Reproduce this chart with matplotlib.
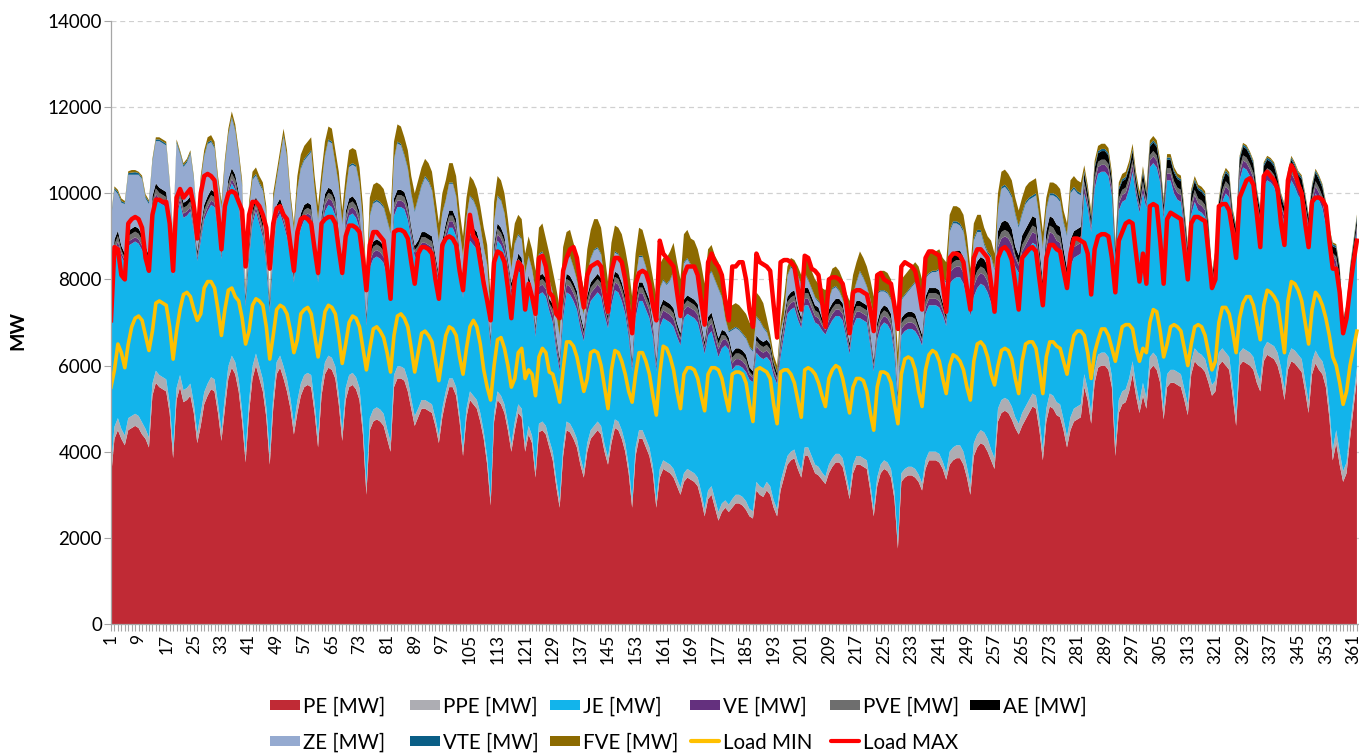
import matplotlib
matplotlib.use('Agg')
import numpy as np
import matplotlib.pyplot as plt
from matplotlib.patches import Rectangle

plt.rcParams['font.family'] = ['Lato', 'DejaVu Sans']

# daily values [MW]; first row = Wed 1 Jan .. Sun 5 Jan, then one row per Mon..Sun week
pe = [
    3400, 4300, 4500, 4300, 4150,
    4500, 4550, 4600, 4550, 4400, 4300, 4100,
    5300, 5600, 5500, 5450, 5400, 4900, 3850,
    5200, 5500, 5150, 5200, 5300, 4900, 4200,
    4600, 5100, 5300, 5450, 5400, 4900, 4250,
    5000, 5700, 5950, 5800, 5400, 4700, 3750,
    4900, 5700, 6000, 5700, 5400, 4800, 3700,
    5000, 5800, 5950, 5700, 5400, 5000, 4400,
    4900, 5300, 5500, 5550, 5500, 4900, 4100,
    5300, 5800, 5950, 5900, 5700, 5100, 4250,
    5200, 5500, 5550, 5450, 5200, 4400, 3000,
    4500, 4700, 4750, 4700, 4600, 4300, 4000,
    5500, 5700, 5700, 5650, 5400, 5000, 4600,
    4800, 5000, 5000, 4950, 4900, 4600, 4200,
    4800, 5200, 5500, 5500, 5300, 4700, 3900,
    4800, 5200, 5100, 5000, 4700, 4300, 3700,
    2750, 4700, 5200, 5100, 4900, 4500, 4000,
    4500, 4900, 4800, 4000, 4400, 4200, 3400,
    4450, 4500, 4400, 4100, 3800, 3200, 2700,
    3900, 4500, 4450, 4300, 4100, 3700, 3400,
    4000, 4300, 4400, 4500, 4400, 4000, 3700,
    4200, 4550, 4500, 4300, 4000, 3500, 2700,
    3900, 4300, 4300, 4100, 3900, 3500, 2700,
    3400, 3600, 3550, 3500, 3400, 3200, 3000,
    3300, 3400, 3350, 3300, 3200, 2900, 2500,
    2900, 3000, 2700, 2400, 2600, 2700, 2600,
    2700, 2800, 2800, 2750, 2650, 2500, 2450,
    3100, 3000, 2950, 3100, 3000, 2700, 2500,
    3100, 3400, 3700, 3800, 3850, 3600, 3400,
    3900, 3900, 3700, 3500, 3450, 3350, 3250,
    3500, 3650, 3750, 3750, 3650, 3300, 2900,
    3500, 3700, 3700, 3650, 3600, 3100, 2500,
    3200, 3500, 3600, 3550, 3400, 2900, 1750,
    3300, 3400, 3450, 3450, 3400, 3300, 3100,
    3600, 3800, 3800, 3800, 3750, 3600, 3350,
    3700, 3800, 3850, 3850, 3700, 3400, 3000,
    3900, 4100, 4200, 4150, 4000, 3800, 3600,
    4700, 4900, 4950, 4900, 4750, 4550, 4400,
    4600, 4750, 4900, 5050, 5000, 4500, 3800,
    4700, 5050, 5000, 4850, 4800, 4500, 4100,
    4500, 4700, 4750, 4800, 5500, 5200, 4650,
    5600, 5950, 6000, 6000, 5900, 5500, 3900,
    4900, 5100, 5150, 5400, 5800, 5300, 4900,
    5300, 5000, 5900, 6000, 5900, 5600, 4750,
    5500, 5600, 5600, 5550, 5500, 5200, 4850,
    5800, 6100, 6000, 5950, 5850, 5600, 5300,
    5400, 6000, 6100, 6000, 5900, 5300, 4600,
    6000, 6100, 6050, 6000, 5900, 5600, 5400,
    6100, 6250, 6200, 6150, 6000, 5700, 5200,
    5900, 6100, 6050, 5950, 5850, 5400, 4900,
    5800, 6050, 5900, 5800, 5500, 4800, 3800,
    4200, 3700, 3300, 3500, 4300, 5000, 5700,
]

ppe = [
    230, 280, 280, 230, 230,
    280, 280, 280, 280, 280, 230, 230,
    280, 280, 280, 280, 280, 230, 230,
    280, 280, 280, 280, 280, 230, 230,
    280, 280, 280, 280, 280, 230, 230,
    280, 280, 280, 280, 280, 230, 230,
    280, 280, 280, 280, 280, 230, 230,
    280, 280, 280, 280, 280, 230, 230,
    280, 280, 280, 280, 280, 230, 230,
    280, 280, 280, 280, 280, 230, 230,
    280, 280, 280, 280, 280, 230, 230,
    280, 280, 280, 280, 280, 230, 230,
    280, 280, 280, 280, 280, 230, 230,
    200, 200, 200, 200, 200, 170, 170,
    200, 200, 200, 200, 200, 170, 170,
    200, 200, 200, 200, 200, 170, 170,
    170, 200, 200, 200, 200, 170, 170,
    200, 200, 200, 170, 200, 170, 170,
    200, 200, 200, 170, 200, 170, 170,
    200, 200, 200, 200, 200, 170, 170,
    200, 200, 200, 200, 200, 170, 170,
    200, 200, 200, 200, 200, 170, 170,
    200, 200, 200, 200, 200, 170, 170,
    200, 200, 200, 200, 200, 170, 170,
    200, 200, 200, 200, 200, 170, 170,
    200, 200, 200, 200, 200, 170, 170,
    200, 200, 200, 200, 200, 170, 170,
    200, 200, 200, 200, 200, 170, 170,
    200, 200, 200, 200, 200, 170, 170,
    200, 200, 200, 200, 200, 170, 170,
    200, 200, 200, 200, 200, 170, 170,
    200, 200, 200, 200, 200, 170, 170,
    200, 200, 200, 200, 200, 170, 170,
    200, 200, 200, 200, 200, 170, 170,
    200, 200, 200, 200, 200, 170, 170,
    300, 300, 300, 300, 300, 250, 250,
    300, 300, 300, 300, 300, 250, 250,
    300, 300, 300, 300, 300, 250, 250,
    300, 300, 300, 300, 300, 250, 250,
    300, 300, 300, 300, 300, 250, 250,
    300, 300, 300, 300, 300, 250, 250,
    300, 300, 300, 300, 300, 250, 250,
    300, 300, 300, 300, 300, 250, 250,
    300, 250, 300, 300, 300, 250, 250,
    300, 300, 300, 300, 300, 250, 250,
    300, 300, 300, 300, 300, 250, 250,
    250, 300, 300, 300, 300, 250, 250,
    300, 300, 300, 300, 300, 250, 250,
    300, 300, 300, 300, 300, 250, 250,
    300, 300, 300, 300, 300, 250, 250,
    300, 300, 300, 300, 300, 250, 250,
    300, 300, 250, 250, 250, 250, 250,
]

je = [
    4000, 4000, 4000, 4000, 4000,
    4000, 4000, 4000, 4000, 4000, 4000, 4000,
    4000, 4000, 4000, 4000, 4000, 4000, 4000,
    4000, 4000, 4000, 4000, 4000, 4000, 4000,
    4000, 4000, 4000, 4000, 4000, 4000, 4000,
    4000, 4000, 4000, 4000, 4000, 4000, 3400,
    3300, 3300, 3300, 3300, 3300, 3300, 3300,
    3300, 3300, 3300, 3300, 3300, 3300, 3300,
    3600, 3600, 3600, 3600, 3600, 3600, 3600,
    3500, 3500, 3500, 3500, 3500, 3500, 3500,
    3700, 3700, 3700, 3700, 3700, 3700, 3700,
    3500, 3500, 3500, 3500, 3500, 3500, 3500,
    3700, 3700, 3700, 3700, 3700, 3700, 3700,
    3500, 3500, 3500, 3500, 3500, 3500, 3500,
    3500, 3500, 3500, 3500, 3500, 3500, 3500,
    3500, 3500, 3500, 3500, 3500, 3500, 3500,
    3500, 3500, 3500, 3500, 3500, 3500, 3500,
    3100, 3100, 3100, 3100, 3100, 3100, 3100,
    3000, 3000, 3000, 3000, 3000, 3000, 3000,
    3000, 3000, 3000, 3000, 3000, 3000, 3000,
    3000, 3000, 3000, 3000, 3000, 3000, 3000,
    3000, 3000, 3000, 3000, 3000, 3000, 3000,
    3000, 3000, 3000, 3000, 3000, 3000, 3000,
    3300, 3300, 3300, 3300, 3300, 3300, 3300,
    3600, 3600, 3600, 3600, 3600, 3600, 3600,
    3600, 3600, 3600, 3600, 3600, 3600, 3600,
    3000, 3000, 3000, 3000, 3000, 3000, 3000,
    3000, 3000, 3000, 2900, 2900, 2900, 2900,
    2900, 3100, 3300, 3300, 3300, 3300, 3300,
    3300, 3300, 3300, 3300, 3300, 3300, 3300,
    3200, 3200, 3200, 3200, 3200, 3200, 3200,
    3200, 3200, 3200, 3200, 3200, 3200, 3200,
    3200, 3200, 3200, 3200, 3200, 3200, 3200,
    3200, 3200, 3200, 3200, 3200, 3200, 3200,
    3400, 3400, 3400, 3400, 3400, 3400, 3400,
    3900, 3900, 3900, 3900, 3900, 3900, 3900,
    3400, 3400, 3400, 3400, 3400, 3400, 3400,
    3500, 3500, 3500, 3500, 3500, 3500, 3500,
    3500, 3500, 3500, 3500, 3500, 3500, 3500,
    3500, 3500, 3500, 3500, 3500, 3500, 3500,
    3500, 3500, 3500, 3500, 4200, 4200, 4200,
    4200, 4200, 4200, 4200, 4200, 4200, 4200,
    4400, 4400, 4400, 4400, 4400, 4400, 4400,
    4400, 4400, 4400, 4400, 4400, 4400, 4400,
    4500, 4400, 4100, 4000, 4000, 3700, 3300,
    3400, 3400, 3300, 3300, 3300, 3000, 2200,
    2600, 3000, 3400, 3700, 3700, 3600, 4000,
    4000, 4200, 4200, 4100, 4000, 3800, 3600,
    3750, 3750, 3750, 3700, 3550, 3600, 3900,
    3750, 3900, 3800, 3700, 3700, 3900, 3950,
    3550, 3650, 3650, 3550, 3450, 3700, 4400,
    3750, 3750, 3150, 3250, 3350, 3200, 3150,
]

ve = [
    70, 100, 100, 80, 70,
    100, 100, 100, 100, 100, 80, 70,
    100, 100, 100, 100, 100, 80, 70,
    100, 100, 100, 100, 100, 80, 70,
    100, 100, 100, 100, 100, 80, 70,
    100, 100, 100, 100, 100, 80, 70,
    100, 100, 100, 100, 100, 80, 70,
    100, 100, 100, 100, 100, 80, 70,
    100, 100, 100, 100, 100, 80, 70,
    150, 150, 150, 150, 150, 120, 100,
    150, 150, 150, 150, 150, 120, 100,
    150, 150, 150, 150, 150, 120, 100,
    150, 150, 150, 150, 150, 120, 100,
    150, 150, 150, 150, 150, 120, 100,
    150, 150, 150, 150, 150, 120, 100,
    150, 150, 150, 150, 150, 120, 100,
    100, 150, 150, 150, 150, 120, 100,
    150, 150, 150, 100, 150, 120, 100,
    180, 180, 180, 130, 180, 150, 130,
    180, 180, 180, 180, 180, 150, 130,
    180, 180, 180, 180, 180, 150, 130,
    180, 180, 180, 180, 180, 150, 130,
    180, 180, 180, 180, 180, 150, 130,
    180, 180, 180, 180, 180, 150, 130,
    180, 180, 180, 180, 180, 150, 130,
    180, 180, 180, 180, 180, 150, 130,
    150, 150, 150, 150, 150, 120, 100,
    150, 150, 150, 150, 150, 120, 100,
    150, 150, 150, 150, 150, 120, 100,
    150, 150, 150, 150, 150, 120, 100,
    150, 150, 150, 150, 150, 120, 100,
    150, 150, 150, 150, 150, 120, 100,
    150, 150, 150, 150, 150, 120, 100,
    150, 150, 150, 150, 150, 120, 100,
    150, 150, 150, 150, 150, 120, 100,
    250, 250, 250, 250, 250, 200, 170,
    250, 250, 250, 250, 250, 200, 170,
    250, 250, 250, 250, 250, 200, 170,
    250, 250, 250, 250, 250, 200, 170,
    250, 250, 250, 250, 250, 200, 170,
    250, 250, 250, 250, 160, 130, 110,
    160, 160, 160, 160, 160, 130, 110,
    160, 160, 160, 160, 160, 130, 110,
    160, 110, 160, 160, 160, 130, 110,
    160, 160, 160, 160, 160, 130, 110,
    160, 160, 160, 160, 160, 130, 110,
    110, 160, 160, 160, 160, 130, 110,
    160, 160, 160, 160, 160, 130, 110,
    160, 160, 160, 160, 160, 130, 110,
    160, 160, 160, 160, 160, 130, 110,
    160, 160, 160, 160, 160, 130, 110,
    160, 160, 110, 110, 110, 130, 110,
]

pve = [
    50, 130, 130, 70, 50,
    130, 130, 130, 130, 130, 70, 50,
    130, 130, 130, 130, 130, 70, 50,
    130, 130, 130, 130, 130, 70, 50,
    130, 130, 130, 130, 130, 70, 50,
    130, 130, 130, 130, 130, 70, 50,
    130, 130, 130, 130, 130, 70, 50,
    130, 130, 130, 130, 130, 70, 50,
    130, 130, 130, 130, 130, 70, 50,
    130, 130, 130, 130, 130, 70, 50,
    130, 130, 130, 130, 130, 70, 50,
    130, 130, 130, 130, 130, 70, 50,
    130, 130, 130, 130, 130, 70, 50,
    130, 130, 130, 130, 130, 70, 50,
    130, 130, 130, 130, 130, 70, 50,
    130, 130, 130, 130, 130, 70, 50,
    50, 130, 130, 130, 130, 70, 50,
    130, 130, 130, 50, 130, 70, 50,
    130, 130, 130, 50, 130, 70, 50,
    130, 130, 130, 130, 130, 70, 50,
    130, 130, 130, 130, 130, 70, 50,
    130, 130, 130, 130, 130, 70, 50,
    130, 130, 130, 130, 130, 70, 50,
    130, 130, 130, 130, 130, 70, 50,
    130, 130, 130, 130, 130, 70, 50,
    130, 130, 130, 130, 130, 70, 50,
    130, 130, 130, 130, 130, 70, 50,
    130, 130, 130, 130, 130, 70, 50,
    130, 130, 130, 130, 130, 70, 50,
    130, 130, 130, 130, 130, 70, 50,
    130, 130, 130, 130, 130, 70, 50,
    130, 130, 130, 130, 130, 70, 50,
    130, 130, 130, 130, 130, 70, 50,
    130, 130, 130, 130, 130, 70, 50,
    130, 130, 130, 130, 130, 70, 50,
    150, 150, 150, 150, 150, 80, 60,
    150, 150, 150, 150, 150, 80, 60,
    150, 150, 150, 150, 150, 80, 60,
    150, 150, 150, 150, 150, 80, 60,
    150, 150, 150, 150, 150, 80, 60,
    150, 150, 150, 150, 120, 70, 50,
    120, 120, 120, 120, 120, 70, 50,
    120, 120, 120, 120, 120, 70, 50,
    120, 50, 120, 120, 120, 70, 50,
    120, 120, 120, 120, 120, 70, 50,
    120, 120, 120, 120, 120, 70, 50,
    50, 120, 120, 120, 120, 70, 50,
    120, 120, 120, 120, 120, 70, 50,
    120, 120, 120, 120, 120, 70, 50,
    120, 120, 120, 120, 120, 70, 50,
    120, 120, 120, 120, 120, 70, 50,
    120, 120, 50, 50, 50, 70, 50,
]

ae = [
    100, 120, 120, 100, 100,
    120, 120, 120, 120, 120, 100, 100,
    120, 120, 120, 120, 120, 100, 100,
    120, 120, 120, 120, 120, 100, 100,
    120, 120, 120, 120, 120, 100, 100,
    120, 120, 120, 120, 120, 100, 100,
    120, 120, 120, 120, 120, 100, 100,
    120, 120, 120, 120, 120, 100, 100,
    120, 120, 120, 120, 120, 100, 100,
    120, 120, 120, 120, 120, 100, 100,
    120, 120, 120, 120, 120, 100, 100,
    120, 120, 120, 120, 120, 100, 100,
    120, 120, 120, 120, 120, 100, 100,
    120, 120, 120, 120, 120, 100, 100,
    120, 120, 120, 120, 120, 100, 100,
    120, 120, 120, 120, 120, 100, 100,
    100, 120, 120, 120, 120, 100, 100,
    120, 120, 120, 100, 120, 100, 100,
    120, 120, 120, 100, 120, 100, 100,
    120, 120, 120, 120, 120, 100, 100,
    120, 120, 120, 120, 120, 100, 100,
    120, 120, 120, 120, 120, 100, 100,
    120, 120, 120, 120, 120, 100, 100,
    120, 120, 120, 120, 120, 100, 100,
    120, 120, 120, 120, 120, 100, 100,
    120, 120, 120, 120, 120, 100, 100,
    120, 120, 120, 120, 120, 100, 100,
    120, 120, 120, 120, 120, 100, 100,
    120, 120, 120, 120, 120, 100, 100,
    120, 120, 120, 120, 120, 100, 100,
    120, 120, 120, 120, 120, 100, 100,
    120, 120, 120, 120, 120, 100, 100,
    120, 120, 120, 120, 120, 100, 100,
    120, 120, 120, 120, 120, 100, 100,
    120, 120, 120, 120, 120, 100, 100,
    220, 220, 220, 220, 220, 180, 180,
    220, 220, 220, 220, 220, 180, 180,
    220, 220, 220, 220, 220, 180, 180,
    220, 220, 220, 220, 220, 180, 180,
    220, 220, 220, 220, 220, 180, 180,
    220, 220, 220, 220, 200, 170, 160,
    200, 200, 200, 200, 200, 170, 160,
    200, 200, 200, 200, 200, 170, 160,
    200, 160, 200, 200, 200, 170, 160,
    200, 200, 200, 200, 200, 170, 160,
    200, 200, 200, 200, 200, 170, 160,
    160, 200, 200, 200, 200, 170, 160,
    200, 200, 200, 200, 200, 170, 160,
    200, 200, 200, 200, 200, 170, 160,
    200, 200, 200, 200, 200, 170, 160,
    200, 200, 200, 200, 200, 170, 160,
    200, 200, 160, 160, 160, 170, 160,
]

ze = [
    1550, 1150, 850, 1000, 1150,
    1300, 1250, 1200, 1250, 1300, 1100, 1200,
    780, 980, 1080, 1080, 1080, 830, 710,
    1330, 780, 830, 880, 980, 930, 560,
    1010, 1110, 1210, 1110, 1010, 860, 940,
    1010, 1010, 1160, 1010, 810, 960, 100,
    780, 680, 480, 580, 730, 930, 0,
    880, 580, 930, 1680, 1480, 1030, 960,
    930, 1030, 1030, 1080, 1230, 1080, 1210,
    680, 880, 1080, 1080, 780, 1040, 1030,
    430, 730, 730, 780, 630, 690, 430,
    780, 880, 880, 880, 880, 1040, 1080,
    880, 1080, 1030, 830, 780, 740, 780,
    960, 1060, 1260, 1210, 1060, 900, 740,
    620, 520, 620, 620, 520, 460, 700,
    520, 620, 620, 520, 420, 460, 700,
    450, 520, 620, 620, 520, 460, 300,
    620, 420, 420, 600, 420, 460, 800,
    490, 490, 340, 420, 240, 480, 520,
    540, 340, 440, 340, 240, 280, 320,
    440, 540, 640, 590, 540, 480, 220,
    340, 440, 440, 440, 440, 680, 820,
    440, 590, 590, 540, 340, 380, 820,
    440, 440, 390, 540, 840, 780, 620,
    840, 840, 740, 740, 640, 680, 720,
    940, 940, 1040, 1140, 740, 280, 120,
    520, 470, 420, 370, 370, 460, 450,
    420, 420, 320, 170, 0, 0, 0,
    170, 50, 470, 570, 470, 710, 750,
    320, 170, 170, 170, 120, 260, 350,
    220, 320, 270, 170, 70, 260, 500,
    320, 420, 670, 570, 420, 760, 1000,
    670, 420, 320, 320, 320, 560, 450,
    420, 420, 470, 570, 720, 860, 800,
    420, 320, 370, 370, 470, 560, 750,
    580, 680, 630, 580, 580, 590, 290,
    680, 680, 580, 330, 280, 590, 540,
    480, 780, 780, 730, 730, 740, 640,
    480, 580, 530, 430, 530, 690, 740,
    480, 480, 530, 630, 580, 590, 740,
    1080, 980, 830, 730, 0, 0, 0,
    0, 0, 0, 0, 0, 0, 0,
    0, 0, 0, 0, 0, 0, 0,
    0, 0, 0, 0, 0, 0, 0,
    0, 0, 0, 0, 0, 0, 0,
    0, 0, 0, 0, 0, 0, 0,
    0, 0, 0, 0, 0, 0, 0,
    0, 0, 0, 0, 0, 0, 0,
    0, 0, 0, 0, 0, 0, 0,
    0, 0, 0, 0, 0, 0, 0,
    0, 0, 0, 0, 0, 0, 0,
    0, 0, 0, 0, 0, 0, 0,
]

vte = [
    40, 40, 50, 40, 30,
    40, 50, 60, 40, 30, 40, 50,
    40, 40, 40, 40, 40, 40, 40,
    40, 40, 40, 40, 40, 40, 40,
    40, 40, 40, 40, 40, 40, 40,
    40, 40, 40, 40, 40, 40, 40,
    40, 40, 40, 40, 40, 40, 40,
    40, 40, 40, 40, 40, 40, 40,
    40, 40, 40, 40, 40, 40, 40,
    40, 40, 40, 40, 40, 40, 40,
    40, 40, 40, 40, 40, 40, 40,
    40, 40, 40, 40, 40, 40, 40,
    40, 40, 40, 40, 40, 40, 40,
    40, 40, 40, 40, 40, 40, 40,
    30, 30, 30, 30, 30, 30, 30,
    30, 30, 30, 30, 30, 30, 30,
    30, 30, 30, 30, 30, 30, 30,
    30, 30, 30, 30, 30, 30, 30,
    30, 30, 30, 30, 30, 30, 30,
    30, 30, 30, 30, 30, 30, 30,
    30, 30, 30, 30, 30, 30, 30,
    30, 30, 30, 30, 30, 30, 30,
    30, 30, 30, 30, 30, 30, 30,
    30, 30, 30, 30, 30, 30, 30,
    30, 30, 30, 30, 30, 30, 30,
    30, 30, 30, 30, 30, 30, 30,
    30, 30, 30, 30, 30, 30, 30,
    30, 30, 30, 30, 30, 30, 30,
    30, 30, 30, 30, 30, 30, 30,
    30, 30, 30, 30, 30, 30, 30,
    30, 30, 30, 30, 30, 30, 30,
    30, 30, 30, 30, 30, 30, 30,
    30, 30, 30, 30, 30, 30, 30,
    30, 30, 30, 30, 30, 30, 30,
    30, 30, 30, 30, 30, 30, 30,
    50, 50, 50, 50, 50, 50, 50,
    50, 50, 50, 50, 50, 50, 50,
    50, 50, 50, 50, 50, 50, 50,
    50, 50, 50, 50, 50, 50, 50,
    50, 50, 50, 50, 50, 50, 50,
    50, 50, 50, 50, 50, 50, 50,
    50, 50, 50, 50, 50, 50, 50,
    50, 50, 50, 50, 50, 50, 50,
    50, 50, 50, 50, 50, 50, 50,
    50, 50, 50, 50, 50, 50, 50,
    50, 50, 50, 50, 50, 50, 50,
    50, 50, 50, 50, 50, 50, 50,
    50, 50, 50, 50, 50, 50, 50,
    50, 50, 50, 50, 50, 50, 50,
    50, 50, 50, 50, 50, 50, 50,
    50, 50, 50, 50, 50, 50, 50,
    50, 50, 50, 50, 50, 50, 50,
]

fve = [
    30, 40, 50, 60, 40,
    40, 60, 50, 30, 50, 60, 40,
    50, 50, 50, 50, 50, 50, 50,
    50, 50, 50, 50, 50, 50, 50,
    120, 120, 120, 120, 120, 120, 120,
    120, 120, 120, 120, 120, 120, 120,
    150, 150, 150, 150, 150, 150, 150,
    150, 150, 150, 150, 150, 150, 150,
    300, 300, 300, 300, 300, 300, 300,
    300, 300, 300, 300, 300, 300, 300,
    350, 350, 350, 350, 350, 350, 350,
    400, 400, 400, 400, 400, 400, 400,
    400, 400, 400, 400, 400, 400, 400,
    400, 400, 400, 400, 400, 400, 400,
    450, 450, 450, 450, 450, 450, 450,
    450, 450, 450, 450, 450, 450, 450,
    450, 450, 450, 450, 450, 450, 450,
    450, 450, 450, 450, 450, 450, 450,
    600, 650, 550, 600, 500, 600, 650,
    650, 600, 600, 550, 600, 650, 600,
    600, 650, 700, 650, 600, 600, 550,
    650, 600, 600, 650, 600, 550, 600,
    600, 650, 600, 550, 600, 650, 600,
    550, 500, 600, 650, 650, 600, 600,
    650, 650, 600, 600, 600, 650, 600,
    600, 600, 550, 600, 550, 600, 600,
    550, 550, 550, 550, 550, 550, 550,
    550, 550, 550, 300, 200, 150, 150,
    200, 400, 200, 200, 200, 200, 200,
    400, 400, 400, 400, 400, 400, 400,
    450, 450, 450, 450, 450, 450, 450,
    450, 450, 450, 450, 450, 450, 450,
    450, 450, 450, 450, 450, 450, 450,
    450, 450, 450, 450, 450, 450, 450,
    450, 450, 450, 450, 450, 450, 450,
    350, 350, 350, 350, 350, 350, 350,
    350, 350, 350, 350, 350, 350, 350,
    350, 350, 350, 350, 350, 350, 350,
    350, 350, 350, 350, 350, 350, 350,
    250, 250, 250, 250, 250, 250, 250,
    250, 250, 250, 250, 120, 120, 120,
    120, 120, 120, 120, 120, 120, 120,
    120, 120, 120, 120, 120, 120, 120,
    100, 100, 100, 100, 100, 100, 100,
    80, 80, 80, 80, 80, 80, 80,
    70, 70, 70, 70, 70, 70, 70,
    60, 60, 60, 60, 60, 60, 60,
    40, 40, 40, 40, 40, 40, 40,
    40, 40, 40, 40, 40, 40, 40,
    40, 40, 40, 40, 40, 40, 40,
    40, 40, 40, 40, 40, 40, 40,
    40, 40, 40, 40, 40, 40, 40,
]

load_min = [
    5500, 5900, 6500, 6300, 5950,
    6500, 6900, 7100, 7150, 7050, 6700, 6350,
    6800, 7450, 7500, 7450, 7400, 6900, 6150,
    6800, 7300, 7650, 7700, 7600, 7300, 7050,
    7200, 7800, 7950, 7950, 7800, 7300, 6700,
    7300, 7750, 7800, 7600, 7500, 7100, 6500,
    6800, 7400, 7550, 7500, 7400, 6900, 6150,
    6700, 7300, 7400, 7350, 7200, 6800, 6300,
    6600, 7200, 7300, 7350, 7200, 6700, 6200,
    6700, 7250, 7400, 7350, 7200, 6700, 6050,
    6500, 7000, 7150, 7100, 6900, 6400, 5900,
    6400, 6850, 6900, 6800, 6650, 6300, 5850,
    6700, 7150, 7200, 7100, 6900, 6400, 5850,
    6300, 6750, 6800, 6700, 6550, 6100, 5650,
    6200, 6700, 6900, 6850, 6700, 6200, 5800,
    6400, 6900, 7050, 6900, 6500, 5900, 5500,
    5200, 6000, 6600, 6650, 6400, 6000, 5500,
    5700, 6300, 6400, 5700, 5900, 5800, 5300,
    6200, 6400, 6300, 5850, 5800, 5500, 5150,
    5900, 6550, 6550, 6450, 6200, 5800, 5400,
    5700, 6300, 6350, 6300, 6000, 5500, 5000,
    5900, 6350, 6300, 6100, 5800, 5400, 5150,
    5800, 6300, 6300, 6100, 5800, 5300, 4850,
    5800, 6450, 6400, 6200, 5900, 5400, 5000,
    5800, 5950, 5950, 5900, 5700, 5300, 4950,
    5800, 5950, 5950, 5900, 5700, 5300, 4950,
    5800, 5850, 5850, 5800, 5600, 5100, 4700,
    5900, 5950, 5900, 5850, 5700, 5100, 4650,
    5850, 5900, 5900, 5800, 5600, 5200, 4800,
    5900, 5950, 5900, 5800, 5600, 5300, 5050,
    5700, 5900, 6000, 5950, 5700, 5300, 4900,
    5500, 5700, 5700, 5650, 5400, 4900, 4500,
    5500, 5850, 5850, 5800, 5600, 5100, 4650,
    5800, 6150, 6200, 6150, 5900, 5400, 5050,
    5900, 6250, 6350, 6300, 6100, 5700, 5350,
    6000, 6250, 6200, 6100, 5900, 5500, 5200,
    6100, 6500, 6550, 6450, 6200, 5800, 5550,
    6000, 6350, 6400, 6350, 6150, 5700, 5350,
    6100, 6500, 6550, 6550, 6400, 5900, 5350,
    6200, 6550, 6550, 6450, 6400, 6100, 5800,
    6300, 6700, 6800, 6800, 6700, 6300, 5700,
    6300, 6600, 6850, 6850, 6700, 6400, 6100,
    6500, 6900, 6950, 6950, 6850, 6400, 6100,
    6400, 6300, 7000, 7300, 7250, 6800, 6200,
    6500, 6900, 6950, 6900, 6800, 6400, 6000,
    6500, 6900, 6950, 6900, 6700, 6300, 5900,
    6100, 7000, 7350, 7350, 7200, 6800, 6300,
    7100, 7450, 7600, 7600, 7400, 7000, 6600,
    7400, 7750, 7700, 7600, 7450, 6900, 6300,
    7500, 7950, 7900, 7750, 7500, 7000, 6500,
    7300, 7700, 7600, 7400, 7100, 6700, 6200,
    6000, 5600, 5100, 5400, 6000, 6400, 6800,
]

load_max = [
    7050, 8750, 8700, 8100, 8000,
    9300, 9400, 9450, 9400, 9200, 8500, 8200,
    9500, 9850, 9850, 9800, 9800, 9300, 8200,
    9900, 10100, 9900, 10000, 10100, 9700, 8950,
    10000, 10400, 10450, 10400, 10300, 9600, 8700,
    9700, 10000, 10050, 10000, 9800, 9600, 8300,
    9500, 9800, 9800, 9700, 9500, 9200, 8250,
    9300, 9650, 9700, 9500, 9400, 8800, 8200,
    9100, 9400, 9450, 9400, 9300, 8700, 8150,
    9300, 9400, 9450, 9450, 9300, 8700, 8150,
    9000, 9250, 9250, 9200, 9100, 8500, 7750,
    8800, 9100, 9100, 9000, 8900, 8300, 7550,
    9100, 9150, 9150, 9100, 8950, 8400, 7900,
    8600, 8750, 8750, 8700, 8600, 8000, 7550,
    8800, 8950, 9000, 8950, 8800, 8200, 7750,
    8700, 9500, 9000, 8900, 8400, 7900, 7500,
    7050, 8400, 8650, 8600, 8400, 7800, 7100,
    8000, 8400, 8300, 7300, 7900, 7600, 7200,
    8500, 8550, 8300, 7700, 7600, 7200, 7100,
    8200, 8500, 8700, 8750, 8500, 7900, 7350,
    8100, 8300, 8350, 8400, 8300, 7700, 7250,
    8200, 8500, 8500, 8400, 8000, 7300, 6750,
    7900, 8150, 8200, 8150, 7900, 7400, 7050,
    8900, 8600, 8500, 8400, 8300, 7700, 7150,
    8100, 8300, 8300, 8300, 8100, 7500, 6950,
    8400, 8600, 8400, 8300, 8100, 7500, 7050,
    8300, 8300, 8400, 8400, 8000, 7300, 6900,
    8600, 8400, 8350, 8300, 8200, 7400, 6650,
    8400, 8450, 8450, 8400, 8300, 7800, 7300,
    8550, 8500, 8250, 8200, 8100, 7500, 6900,
    8000, 8050, 8050, 8000, 7900, 7500, 6750,
    7700, 7750, 7750, 7700, 7650, 7300, 6800,
    8100, 8150, 8000, 7950, 7900, 7400, 6850,
    8300, 8400, 8350, 8300, 8200, 7800, 7300,
    8500, 8650, 8650, 8600, 8550, 7900, 7250,
    8500, 8600, 8600, 8550, 8400, 7800, 7300,
    8500, 8700, 8700, 8600, 8500, 7900, 7250,
    8500, 8700, 8750, 8650, 8450, 7900, 7300,
    8500, 8600, 8700, 8750, 8650, 8000, 7400,
    8500, 8800, 8800, 8700, 8650, 8200, 7800,
    8600, 8950, 8950, 8900, 8850, 8600, 7650,
    8700, 9000, 9050, 9050, 9000, 8500, 7700,
    8900, 9100, 9300, 9350, 9300, 8600, 7950,
    8600, 7900, 9700, 9750, 9700, 8900, 7900,
    9400, 9550, 9500, 9450, 9400, 8700, 8000,
    9300, 9450, 9450, 9400, 9350, 8600, 7800,
    8000, 9700, 9750, 9750, 9600, 9100, 8500,
    9900, 10100, 10300, 10350, 10200, 9500, 8750,
    10400, 10500, 10400, 10300, 10100, 9300, 8800,
    10300, 10650, 10500, 10200, 10000, 9300, 8750,
    9800, 9900, 9900, 9850, 9700, 8900, 8250,
    8250, 7700, 6750, 7100, 7800, 8400, 8900,
]

area_names = ['PE [MW]', 'PPE [MW]', 'JE [MW]', 'VE [MW]', 'PVE [MW]',
              'AE [MW]', 'ZE [MW]', 'VTE [MW]', 'FVE [MW]']
area_colors = ['#C02A35', '#ADADB3', '#12B4EB', '#64307E', '#6E6E6E',
               '#000000', '#95AAD0', '#0A5E86', '#8C6A00']
min_color = '#FFC000'
max_color = '#FF0000'

days = np.arange(1, len(pe) + 1)

W, H = 1359, 753
fig = plt.figure(figsize=(W / 100, H / 100), dpi=100)
ax = fig.add_axes([111 / W, 1 - 624 / H, 1248 / W, 603 / H])

ax.stackplot(days, pe, ppe, je, ve, pve, ae, ze, vte, fve,
             colors=area_colors, linewidth=0)
ax.plot(days, load_min, color=min_color, lw=2.6, solid_joinstyle='round')
ax.plot(days, load_max, color=max_color, lw=3.2, solid_joinstyle='round')

ax.set_xlim(1, 362.6)
ax.set_ylim(0, 14000)
ax.set_yticks(np.arange(0, 14001, 2000))
ax.set_xticks(np.arange(1, len(pe) + 1, 8))
ax.set_xticks(days, minor=True)
ax.tick_params(axis='x', which='both', direction='out', length=5,
               color='#A6A6A6', width=0.8, labelsize=12.5, pad=2,
               labelrotation=90)
ax.tick_params(axis='y', direction='out', length=5, color='#A6A6A6',
               width=0.8, labelsize=13.5, pad=1.5)

ax.yaxis.grid(True, color='#D0D0D0', linestyle=(0, (4, 3)), linewidth=0.9)
ax.set_axisbelow(True)
for s in ['top', 'right']:
    ax.spines[s].set_visible(False)
for s in ['left', 'bottom']:
    ax.spines[s].set_color('#A6A6A6')
    ax.spines[s].set_linewidth(0.9)

fig.text(18 / W, 1 - 330 / H, 'MW', rotation=90, ha='center',
         va='center', fontsize=14, fontweight='bold')

# legend drawn on a pixel-coordinate overlay, laid out on a fixed grid like the original
lg = fig.add_axes([0, 0, 1, 1])
lg.set_xlim(0, W)
lg.set_ylim(H, 0)
lg.axis('off')
rows = [['PE [MW]', 'PPE [MW]', 'JE [MW]', 'VE [MW]', 'PVE [MW]', 'AE [MW]'],
        ['ZE [MW]', 'VTE [MW]', 'FVE [MW]', 'Load MIN', 'Load MAX']]
row_y = [705, 741]
col_x0, col_dx = 270, 140
key_color = dict(zip(area_names, area_colors))
for r, names in enumerate(rows):
    y = row_y[r]
    for c, name in enumerate(names):
        x = col_x0 + c * col_dx
        if name in key_color:
            lg.add_patch(Rectangle((x, y - 5), 30, 10, facecolor=key_color[name],
                                   edgecolor='none'))
        else:
            lc = min_color if name == 'Load MIN' else max_color
            lg.plot([x + 1, x + 29], [y, y], color=lc, lw=3,
                    solid_capstyle='round')
        lg.text(x + 33, y, name, ha='left', va='center_baseline', fontsize=14.8)

fig.savefig('out.png', dpi=100)
